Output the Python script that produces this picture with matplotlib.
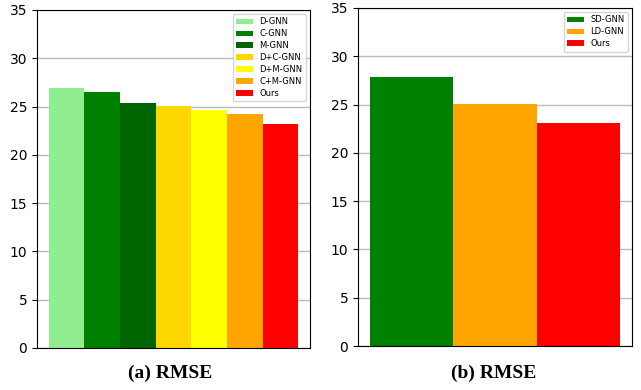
import matplotlib.pyplot as plt

# (a) RMSE values
names_a = ['D-GNN', 'C-GNN', 'M-GNN', 'D+C-GNN', 'D+M-GNN', 'C+M-GNN', 'Ours']
rmse_a = [26.9, 26.5, 25.35, 25.1, 24.6, 24.2, 23.15]
colors_a = ['lightgreen', 'green', 'darkgreen', 'gold', 'yellow', 'orange', 'red']

# (b) RMSE values
names_b = ['SD-GNN', 'LD-GNN', 'Ours']
rmse_b = [27.85, 25.05, 23.1]
colors_b = ['green', 'orange', 'red']

fig = plt.figure(figsize=(6.41, 3.9), dpi=100)
ax1 = fig.add_axes([0.0577, 0.1077, 0.4259, 0.8667])
ax2 = fig.add_axes([0.5585, 0.1128, 0.4275, 0.8667])


def draw(ax, names, vals, colors, margin):
    for i, (n, v, c) in enumerate(zip(names, vals, colors)):
        ax.bar(i, v, width=1.0, color=c, label=n)
    ax.set_xlim(-0.5 - margin, len(names) - 0.5 + margin)
    ax.set_ylim(0, 35)
    ax.set_yticks(range(0, 36, 5))
    ax.set_xticks([])
    ax.set_axisbelow(True)
    ax.yaxis.grid(True, color='#bbbbbb', linewidth=1)
    ax.tick_params(axis='y', labelsize=10)
    ax.legend(loc='upper right', fontsize=6, labelspacing=0.35)


draw(ax1, names_a, rmse_a, colors_a, 0.33)
draw(ax2, names_b, rmse_b, colors_b, 0.145)

fig.text(0.265, 0.03, '(a) RMSE', ha='center', fontsize=14,
         fontweight='bold', family='Liberation Serif')
fig.text(0.77, 0.03, '(b) RMSE', ha='center', fontsize=14,
         fontweight='bold', family='Liberation Serif')

plt.savefig('out.png', dpi=100)
